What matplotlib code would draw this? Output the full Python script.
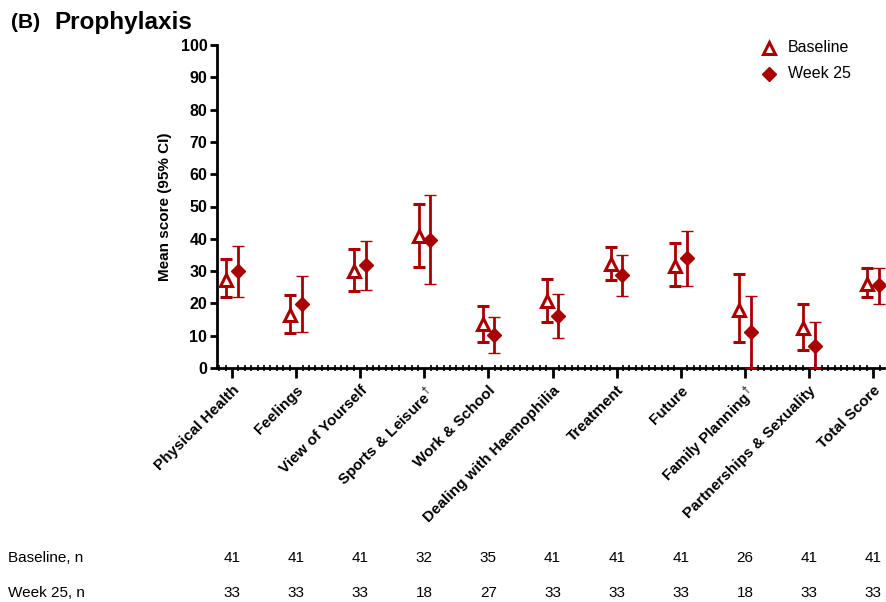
import matplotlib
matplotlib.use("Agg")
import matplotlib.pyplot as plt
import matplotlib.transforms as mtransforms
from matplotlib.ticker import MultipleLocator
import numpy as np

plt.rcParams['font.family'] = ['Liberation Sans', 'DejaVu Sans']
plt.rcParams['mathtext.fontset'] = 'custom'
plt.rcParams['mathtext.rm'] = 'Liberation Sans'
plt.rcParams['mathtext.bf'] = 'Liberation Sans:bold'

categories = ["Physical Health", "Feelings", "View of Yourself",
              "Sports & Leisure$^{\\dagger}$", "Work & School", "Dealing with Haemophilia",
              "Treatment", "Future", "Family Planning$^{\\dagger}$",
              "Partnerships & Sexuality", "Total Score"]

baseline_mean = [27.3, 16.5, 29.9, 40.8, 13.6, 20.7, 32.2, 31.6, 18.1, 12.5, 25.9]
baseline_low  = [22.0, 10.8, 23.8, 31.2, 8.2, 14.1, 27.1, 25.3, 7.9, 5.7, 22.1]
baseline_high = [33.9, 22.6, 36.7, 50.8, 19.3, 27.6, 37.6, 38.7, 29.1, 19.8, 31.1]

week25_mean = [30.0, 19.8, 31.9, 39.7, 10.2, 16.1, 28.7, 34.0, 11.0, 6.8, 25.6]
week25_low  = [22.1, 11.1, 24.3, 25.9, 4.7, 9.3, 22.3, 25.4, 0.0, 0.0, 19.9]
week25_high = [37.7, 28.5, 39.4, 53.6, 15.8, 22.9, 34.9, 42.4, 22.2, 14.1, 31.1]

baseline_n = [41, 41, 41, 32, 35, 41, 41, 41, 26, 41, 41]
week25_n   = [33, 33, 33, 18, 27, 33, 33, 33, 18, 33, 33]

color = '#A80000'

fig = plt.figure(figsize=(8.87, 6.02), dpi=100)
W, H = 887, 602
ax = fig.add_axes([217 / W, 1 - 368 / H, (884 - 217) / W, (368 - 45) / H])

x = np.arange(len(categories))
off = 0.09

tri_kw = dict(marker='^', mfc='white', mec=color, mew=2.2, ms=9)
dia_kw = dict(marker='D', mfc=color, mec=color, mew=1, ms=7)

bm = np.array(baseline_mean)
wm = np.array(week25_mean)
ax.errorbar(x - off, bm, yerr=[bm - np.array(baseline_low), np.array(baseline_high) - bm],
            ls='none', color=color, elinewidth=2.0, capsize=4.5, capthick=2.0,
            clip_on=False, zorder=3, **tri_kw)
ax.errorbar(x + off, wm, yerr=[wm - np.array(week25_low), np.array(week25_high) - wm],
            ls='none', color=color, elinewidth=2.0, capsize=4.5, capthick=2.0,
            clip_on=False, zorder=3, **dia_kw)

ax.set_xlim(-0.234, 10.17)
ax.set_ylim(0, 100)
ax.set_yticks(np.arange(0, 101, 10))
ax.set_xticks(x)
ax.set_xticklabels(categories, rotation=45, ha='right', va='top',
                   rotation_mode='anchor', fontsize=11, fontweight='bold')
ax.xaxis.set_minor_locator(MultipleLocator(0.1))
for s in ['top', 'right']:
    ax.spines[s].set_visible(False)
ax.spines['left'].set_linewidth(2)
ax.spines['bottom'].set_linewidth(2)
ax.tick_params(axis='y', direction='out', length=5, width=2, labelsize=11.5, pad=2)
for lab in ax.get_yticklabels():
    lab.set_fontweight('bold')
ax.tick_params(axis='x', which='major', direction='out', length=7, width=2, pad=4)
ax.tick_params(axis='x', which='minor', direction='inout', length=4, width=1.2)
ax.set_ylabel('Mean score (95% CI)', fontsize=11, fontweight='bold', labelpad=6)

# legend
lx, ly1, ly2 = 769 / W, 1 - 48 / H, 1 - 74 / H
fig.lines.append(plt.Line2D([lx], [ly1], transform=fig.transFigure, ls='none', **tri_kw))
fig.lines.append(plt.Line2D([lx], [ly2], transform=fig.transFigure, ls='none', **dia_kw))
fig.text(788 / W, ly1, 'Baseline', fontsize=11.5, va='center', ha='left')
fig.text(788 / W, ly2, 'Week 25', fontsize=11.5, va='center', ha='left')

# title
fig.text(11 / W, 1 - 23 / H, '(B)', fontsize=15, fontweight='bold', va='center', ha='left')
fig.text(54 / W, 1 - 23 / H, 'Prophylaxis', fontsize=17.5, fontweight='bold', va='center', ha='left')

# n table
trans = mtransforms.blended_transform_factory(ax.transData, fig.transFigure)
yb, yw = 1 - 558 / H, 1 - 593 / H
fig.text(8 / W, yb, 'Baseline, n', fontsize=11, va='center', ha='left')
fig.text(8 / W, yw, 'Week 25, n', fontsize=11, va='center', ha='left')
for i in range(len(categories)):
    fig.text(x[i], yb, str(baseline_n[i]), transform=trans, fontsize=11, va='center', ha='center')
    fig.text(x[i], yw, str(week25_n[i]), transform=trans, fontsize=11, va='center', ha='center')

fig.savefig('out.png', dpi=100)
